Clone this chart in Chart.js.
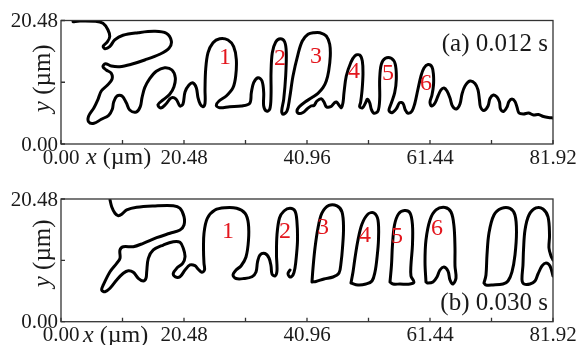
<!DOCTYPE html>
<html>
<head>
<meta charset="utf-8">
<script src="https://cdn.jsdelivr.net/npm/chart.js@4.4.1/dist/chart.umd.min.js"></script>
<style>
    html, body { margin: 0; padding: 0; background: #fff; }
    #wrap { position: relative; width: 579px; height: 345px; overflow: hidden; }
    canvas { position: absolute; left: 0; }
    #chart-a { top: 0; }
    #chart-b { top: 175px; }
</style>
</head>
<body>
<div id="wrap">
    <canvas id="chart-a" width="579" height="175"></canvas>
    <canvas id="chart-b" width="579" height="170"></canvas>
</div>
<script>
// ================================================================
// DATA  (x, y in µm)
// ================================================================
const xLabels = [0, 20.48, 40.96, 61.44, 81.92];
const xMinor  = [10.24, 30.72, 51.2, 71.68];
const yLabels = [0, 20.48];
const yMinor  = [10.24];

// (a) 0.012 s  -- one interface line, left to right
const contourA = [[2.00,20.28],[3.16,20.40],[5.61,20.35],[6.99,20.02],[7.83,18.91],[8.11,17.79],[7.71,16.92],[7.04,16.25],[7.28,15.80],[8.11,16.14],[8.94,17.25],[10.32,18.03],[12.82,18.46],[15.60,18.69],[17.53,18.36],[18.37,17.08],[17.98,15.87],[16.43,14.88],[13.94,13.93],[11.71,13.22],[9.77,12.82],[8.37,12.94],[7.38,13.32],[6.99,12.82],[7.54,12.27],[8.37,11.72],[8.49,10.73],[7.71,9.73],[6.71,8.79],[6.16,7.41],[5.49,6.02],[4.61,4.64],[4.61,3.65],[5.49,3.43],[6.71,4.10],[7.94,4.76],[8.54,5.75],[8.77,6.97],[9.32,7.96],[10.16,7.96],[10.87,6.85],[11.44,5.64],[12.54,5.31],[13.20,6.19],[13.49,7.68],[13.94,9.34],[14.77,10.83],[15.87,12.06],[17.27,12.65],[18.48,12.27],[19.03,11.00],[18.81,9.50],[18.10,8.24],[16.98,7.30],[16.15,6.52],[16.60,5.97],[17.48,6.63],[18.32,7.63],[19.15,7.46],[19.81,6.30],[20.31,6.63],[20.65,8.62],[21.31,9.78],[21.98,10.12],[22.53,9.34],[22.81,7.68],[23.19,6.58],[23.64,6.19],[23.98,6.75],[23.98,9.07],[24.09,12.39],[24.48,15.14],[25.31,16.80],[26.42,17.46],[27.81,17.25],[28.75,16.14],[29.19,14.05],[29.09,11.28],[28.64,9.34],[27.52,7.96],[26.31,7.13],[25.86,6.42],[26.42,6.02],[28.09,6.19],[30.02,6.30],[31.42,6.75],[31.69,8.51],[32.08,10.17],[32.80,11.00],[33.47,10.45],[33.75,8.51],[33.75,6.30],[34.18,5.47],[34.75,5.75],[34.97,7.96],[34.97,11.82],[35.18,15.14],[35.75,16.92],[36.51,17.46],[37.25,16.92],[37.51,15.14],[37.41,11.28],[37.08,7.41],[36.75,5.47],[36.96,4.93],[37.63,5.47],[38.08,7.68],[38.63,11.28],[39.46,14.88],[40.18,17.08],[41.13,18.19],[42.12,18.46],[43.12,18.46],[44.17,17.91],[44.74,16.53],[44.84,14.59],[44.57,12.11],[44.17,10.45],[43.62,9.34],[42.79,8.41],[41.79,7.71],[40.63,6.97],[39.63,6.14],[39.29,5.47],[39.63,5.06],[40.29,5.22],[40.96,5.80],[41.63,6.30],[42.12,6.38],[42.62,7.13],[43.34,7.51],[43.79,6.97],[44.17,6.19],[44.91,6.19],[45.45,6.75],[45.84,6.97],[46.40,6.30],[46.67,6.02],[46.95,6.85],[47.12,8.51],[47.50,11.28],[48.24,13.48],[48.90,14.59],[49.73,14.76],[50.17,13.76],[50.28,11.56],[50.12,8.79],[49.90,6.97],[49.73,6.19],[50.17,5.97],[50.67,6.75],[51.00,7.41],[51.40,6.85],[51.67,5.75],[52.11,5.09],[52.78,5.47],[53.06,7.41],[53.06,10.73],[53.33,13.22],[54.00,14.21],[54.99,14.21],[55.66,13.22],[55.83,10.73],[55.56,8.51],[54.99,6.75],[54.61,5.59],[55.11,5.19],[55.83,5.85],[56.39,6.85],[56.94,6.75],[57.33,5.64],[57.78,5.09],[58.44,5.47],[58.89,6.63],[59.44,9.12],[59.94,11.28],[60.44,12.60],[61.11,13.18],[61.77,12.77],[62.02,11.44],[62.02,9.78],[61.77,8.13],[61.44,6.97],[61.69,6.30],[62.27,6.80],[62.77,7.96],[63.27,8.96],[63.77,9.29],[64.27,8.79],[64.77,7.63],[65.18,6.30],[65.85,5.80],[66.43,6.63],[66.77,8.29],[67.27,9.62],[68.10,10.45],[68.93,10.03],[69.43,8.96],[69.68,7.30],[69.85,6.14],[70.43,5.56],[71.10,6.30],[71.43,7.55],[72.01,8.13],[72.59,7.79],[73.01,6.97],[73.18,5.80],[73.68,5.39],[74.26,6.14],[74.59,7.05],[75.09,7.46],[75.59,7.05],[75.92,6.14],[76.26,5.14],[77.01,4.98],[77.84,5.14],[78.67,4.81],[79.50,4.89],[80.34,4.56],[81.17,4.39],[81.92,4.31]];

// (b) 0.030 s  -- left structure with dendrites 1 and 2, then detached dendrites
const bLeft = [[8.16,20.32],[8.44,19.20],[8.99,18.10],[9.54,17.70],[10.11,17.93],[10.94,18.65],[12.60,19.10],[15.37,19.32],[18.70,19.37],[19.81,18.93],[20.48,17.53],[20.48,16.14],[19.81,15.31],[18.15,14.76],[15.93,14.02],[13.70,13.09],[12.04,12.52],[10.37,12.52],[9.82,11.97],[9.82,10.58],[9.27,9.75],[8.16,8.35],[7.04,6.13],[6.78,5.29],[7.33,5.01],[8.16,5.58],[9.27,6.96],[10.37,8.08],[11.21,8.51],[12.04,8.25],[12.87,7.25],[13.70,6.79],[14.15,7.25],[14.27,8.35],[14.54,10.58],[15.37,11.97],[17.03,12.80],[18.70,13.36],[19.81,13.26],[20.36,12.25],[20.65,10.85],[20.26,9.75],[19.26,8.91],[18.70,8.08],[18.98,7.51],[19.81,7.51],[20.65,8.63],[21.48,9.47],[22.31,9.35],[22.86,8.75],[23.43,8.25],[23.89,8.63],[23.81,9.75],[23.73,11.97],[23.81,14.76],[24.36,17.26],[25.64,18.65],[27.31,19.03],[29.25,18.93],[30.64,18.10],[31.19,16.43],[31.22,13.64],[30.80,10.80],[29.97,9.30],[29.14,8.63],[28.64,7.80],[29.14,7.21],[30.47,7.21],[31.80,7.51],[32.47,8.30],[32.72,9.97],[33.13,11.14],[33.97,11.39],[34.63,10.63],[34.97,9.30],[35.13,7.96],[35.63,7.63],[35.96,8.46],[35.88,11.14],[35.96,14.47],[36.38,17.31],[37.13,18.48],[38.13,18.93],[38.96,18.48],[39.29,16.64],[39.38,13.64],[39.21,11.14],[38.96,8.96],[38.63,7.80],[38.13,7.46],[37.80,8.05],[38.13,8.63]];
const bDend3 = [[41.79,6.63],[41.96,8.96],[42.29,12.30],[42.79,15.64],[43.46,18.15],[44.62,19.40],[45.95,19.32],[46.79,18.31],[47.04,15.64],[46.87,12.30],[46.62,9.80],[46.29,8.13],[45.29,7.46],[43.79,7.13],[42.46,6.71],[41.79,6.63]];
const bDend4 = [[48.28,6.46],[48.62,8.30],[48.95,10.63],[49.45,13.64],[50.12,16.31],[51.12,17.98],[52.11,18.15],[52.78,16.98],[52.86,13.64],[52.61,10.63],[52.28,8.30],[51.78,6.79],[50.78,6.29],[49.45,6.13],[48.28,6.46]];
const bDend5 = [[54.78,6.63],[55.03,9.47],[55.19,12.80],[55.53,16.14],[56.19,17.98],[57.19,18.56],[58.11,18.15],[58.52,16.14],[58.52,12.80],[58.27,9.47],[58.27,7.63],[58.77,6.63],[58.11,6.29],[56.44,6.29],[55.28,6.29],[54.78,6.63]];
const bDend6 = [[60.77,6.63],[60.61,9.97],[60.77,13.64],[61.44,16.98],[62.44,18.65],[63.94,19.07],[64.94,18.31],[65.43,15.98],[65.60,12.30],[65.60,9.30],[65.77,7.30],[65.27,6.29],[64.77,6.96],[64.44,8.46],[63.77,9.13],[63.10,8.63],[62.60,7.46],[61.94,6.63],[61.11,6.46],[60.77,6.63]];
const bDend7 = [[70.43,6.46],[70.76,7.80],[70.93,11.14],[71.26,14.81],[72.09,17.81],[73.34,18.90],[74.76,18.90],[75.59,17.81],[75.84,14.97],[75.59,11.14],[75.09,8.30],[74.43,6.79],[73.59,6.29],[71.93,6.13],[70.76,6.13],[70.43,6.46]];
const bDend8 = [[81.92,7.63],[81.42,9.30],[80.75,9.80],[80.09,9.30],[79.42,7.96],[78.92,6.79],[78.09,6.29],[77.09,6.29],[76.76,6.96],[76.92,9.47],[77.01,11.97],[77.26,15.31],[77.92,17.81],[79.09,18.98],[80.25,18.81],[81.09,17.48],[81.34,14.47],[81.25,12.30],[81.59,10.97],[81.92,10.30]];
const contourB = [bLeft, bDend3, bDend4, bDend5, bDend6, bDend7, bDend8];

// dendrite numbers
const tipNames = ['1', '2', '3', '4', '5', '6'];
const tipA = [[27.31,14.26],[36.46,14.10],[42.46,14.43],[48.78,11.94],[54.45,11.61],[60.77,9.95]];
const tipB = [[27.81,14.97],[37.30,14.97],[43.62,15.64],[50.62,14.31],[55.94,14.14],[62.60,15.48]];

// ================================================================
// DRAWING
// ================================================================
const SERIF = '"Liberation Serif", "Times New Roman", serif';

function drawMixed(ctx, parts, x, y, size) {
    // parts: [[text, italic], ...] drawn left to right from x
    parts.forEach(([t, it]) => {
        ctx.font = (it ? 'italic ' : '') + size + 'px ' + SERIF;
        ctx.fillText(t, x, y);
        x += ctx.measureText(t).width;
    });
}
function mixedWidth(ctx, parts, size) {
    let w = 0;
    parts.forEach(([t, it]) => { ctx.font = (it ? 'italic ' : '') + size + 'px ' + SERIF; w += ctx.measureText(t).width; });
    return w;
}

function decor(cfg) {
    return {
        id: 'decor',
        afterDraw(chart) {
            const { ctx, chartArea: a, scales: { x, y } } = chart;
            ctx.save();

            // frame
            ctx.strokeStyle = '#333'; ctx.lineWidth = 1.3;
            ctx.strokeRect(a.left, a.top, a.right - a.left, a.bottom - a.top);

            // inward ticks
            ctx.beginPath();
            [...xLabels, ...xMinor].forEach(v => {
                const px = x.getPixelForValue(v);
                ctx.moveTo(px, a.bottom); ctx.lineTo(px, a.bottom - 4);
            });
            [...yLabels, ...yMinor].forEach(v => {
                const py = y.getPixelForValue(v);
                ctx.moveTo(a.left, py); ctx.lineTo(a.left + 4, py);
            });
            ctx.stroke();

            // tick labels
            ctx.fillStyle = '#1a1a1a';
            ctx.font = '21px ' + SERIF;
            ctx.textBaseline = 'middle';
            ctx.textAlign = 'center';
            xLabels.forEach(v => ctx.fillText(v.toFixed(2), x.getPixelForValue(v), a.bottom + 14));
            ctx.textAlign = 'right';
            yLabels.forEach(v => ctx.fillText(v.toFixed(2), a.left - 3, y.getPixelForValue(v) + 1));

            // axis titles
            ctx.textAlign = 'left';
            drawMixed(ctx, [['x', true], [' (\u00b5m)', false]], a.left + cfg.xTitleGap, a.bottom + 14, 24);
            const yParts = [['y', true], [' (\u00b5m)', false]];
            ctx.translate(43, (a.top + a.bottom) / 2 - cfg.yTitleShift);
            ctx.rotate(-Math.PI / 2);
            drawMixed(ctx, yParts, -mixedWidth(ctx, yParts, 25) / 2, 0, 25);
            ctx.setTransform(1, 0, 0, 1, 0, 0);

            // panel caption
            ctx.font = '25px ' + SERIF;
            ctx.textAlign = 'right';
            ctx.textBaseline = 'alphabetic';
            ctx.fillText(cfg.caption, a.right - 5, cfg.captionTop ? a.top + 30 : a.bottom - 12);

            // dendrite numbers
            ctx.font = '24px ' + SERIF;
            ctx.fillStyle = '#e3161d';
            ctx.textAlign = 'center';
            ctx.textBaseline = 'middle';
            cfg.tips.forEach(([tx, ty], i) => ctx.fillText(tipNames[i], x.getPixelForValue(tx), y.getPixelForValue(ty)));

            ctx.restore();
        }
    };
}

function makePanel(id, pieces, pad, cfg) {
    return new Chart(document.getElementById(id), {
        type: 'scatter',
        data: {
            datasets: pieces.map(piece => ({
                data: piece.map(([cx, cy]) => ({ x: cx, y: cy })),
                showLine: true,
                borderColor: '#000',
                borderWidth: 3,
                pointRadius: 0,
                tension: 0.35,
                borderJoinStyle: 'round',
                borderCapStyle: 'round'
            }))
        },
        options: {
            responsive: false,
            animation: false,
            layout: { padding: pad },
            scales: {
                x: { type: 'linear', min: 0, max: 81.92, display: false },
                y: { type: 'linear', min: 0, max: 20.48, display: false }
            },
            plugins: { legend: { display: false }, tooltip: { enabled: false } }
        },
        plugins: [decor(cfg)]
    });
}

makePanel('chart-a', [contourA], { left: 61, top: 20.5, right: 26, bottom: 31 },
    { caption: '(a) 0.012 s', captionTop: true, tips: tipA, xTitleGap: 25, yTitleShift: 4 });
makePanel('chart-b', contourB, { left: 61, top: 24, right: 26, bottom: 23.3 },
    { caption: '(b) 0.030 s', captionTop: false, tips: tipB, xTitleGap: 22, yTitleShift: 7 });
</script>
</body>
</html>
